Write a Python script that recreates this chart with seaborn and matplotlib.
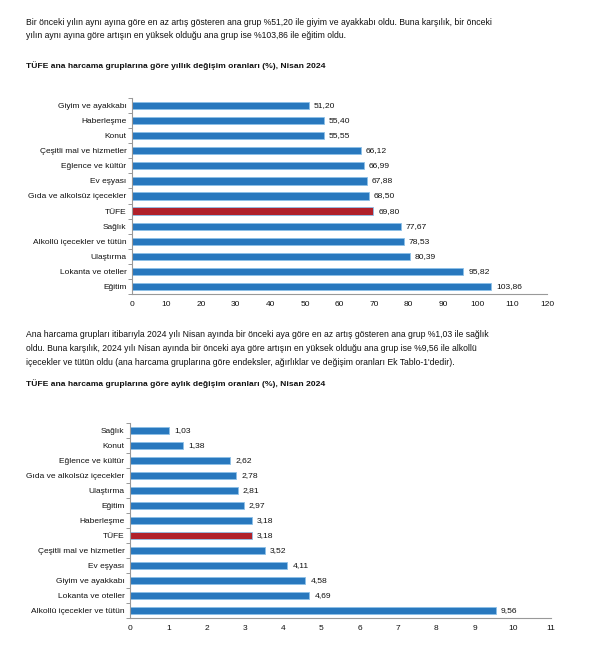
import matplotlib
matplotlib.use("Agg")
import matplotlib.pyplot as plt
import seaborn as sns
import pandas as pd

sns.set_theme(style="white")
plt.rcParams['font.family'] = ['Liberation Sans', 'DejaVu Sans']

# ---- data ----
annual_categories = ["Giyim ve ayakkabı", "Haberleşme", "Konut", "Çeşitli mal ve hizmetler",
                     "Eğlence ve kültür", "Ev eşyası", "Gıda ve alkolsüz içecekler", "TÜFE",
                     "Sağlık", "Alkollü içecekler ve tütün", "Ulaştırma", "Lokanta ve oteller", "Eğitim"]
annual_values = [51.20, 55.40, 55.55, 66.12, 66.99, 67.88, 68.50, 69.80, 77.67, 78.53, 80.39, 95.82, 103.86]
annual_ticks = [0, 10, 20, 30, 40, 50, 60, 70, 80, 90, 100, 110, 120]

monthly_categories = ["Sağlık", "Konut", "Eğlence ve kültür", "Gıda ve alkolsüz içecekler", "Ulaştırma",
                      "Eğitim", "Haberleşme", "TÜFE", "Çeşitli mal ve hizmetler", "Ev eşyası",
                      "Giyim ve ayakkabı", "Lokanta ve oteller", "Alkollü içecekler ve tütün"]
monthly_values = [1.03, 1.38, 2.62, 2.78, 2.81, 2.97, 3.18, 3.18, 3.52, 4.11, 4.58, 4.69, 9.56]
monthly_ticks = [0, 1, 2, 3, 4, 5, 6, 7, 8, 9, 10, 11]

para1 = ["Bir önceki yılın aynı ayına göre en az artış gösteren ana grup %51,20 ile giyim ve ayakkabı oldu. Buna karşılık, bir önceki",
         "yılın aynı ayına göre artışın en yüksek olduğu ana grup ise %103,86 ile eğitim oldu."]
title1 = "TÜFE ana harcama gruplarına göre yıllık değişim oranları (%), Nisan 2024"
para2 = ["Ana harcama grupları itibarıyla 2024 yılı Nisan ayında bir önceki aya göre en az artış gösteren ana grup %1,03 ile sağlık",
         "oldu. Buna karşılık, 2024 yılı Nisan ayında bir önceki aya göre artışın en yüksek olduğu ana grup ise %9,56 ile alkollü",
         "içecekler ve tütün oldu (ana harcama gruplarına göre endeksler, ağırlıklar ve değişim oranları Ek Tablo-1'dedir)."]
title2 = "TÜFE ana harcama gruplarına göre aylık değişim oranları (%), Nisan 2024"

BLUE = "#2878BE"
RED = "#B0202A"
W, H = 610, 646
FS = 6.2

fig = plt.figure(figsize=(W / 100, H / 100), dpi=100)


def ptext(x, y, s, **kw):
    return fig.text(x / W, 1 - y / H, s, va="center", ha="left", color="#111111", **kw)


def draw(ax_box, cats, vals, ticks):
    l, t, r, b = ax_box
    ax = fig.add_axes([l / W, 1 - b / H, (r - l) / W, (b - t) / H])
    df = pd.DataFrame({"cat": cats, "val": vals})
    pal = {c: (RED if c == "TÜFE" else BLUE) for c in cats}
    sns.barplot(data=df, y="cat", x="val", hue="cat", palette=pal, orient="h",
                width=0.48, legend=False, ax=ax, edgecolor="#8DC0E8", linewidth=0.6, saturation=1)
    ax.set_xlim(ticks[0], ticks[-1])
    ax.set_ylim(len(cats) - 0.5, -0.5)
    ax.set_xticks(ticks)
    ax.set_xticklabels([str(t) for t in ticks], fontsize=6)
    ax.set_xlabel("")
    ax.set_ylabel("")
    ax.tick_params(axis="y", which="major", length=0, labelsize=6, pad=4, labelcolor="#111111")
    ax.tick_params(axis="x", which="major", length=3, width=0.7, color="#999999", pad=2, labelcolor="#111111")
    ax.set_yticks([i + 0.5 for i in range(-1, len(cats))], minor=True)
    ax.tick_params(axis="y", which="minor", length=3, width=0.7, color="#999999", left=True)
    for s in ["top", "right"]:
        ax.spines[s].set_visible(False)
    for s in ["left", "bottom"]:
        ax.spines[s].set_color("#999999")
        ax.spines[s].set_linewidth(0.8)
    span = ticks[-1] - ticks[0]
    for i, v in enumerate(vals):
        ax.text(v + span * 0.012, i, f"{v:.2f}".replace(".", ","), va="center", ha="left",
                fontsize=6.1, color="#111111")
    return ax


ptext(26, 22.5, para1[0], fontsize=FS)
ptext(26, 36, para1[1], fontsize=FS)
ptext(26, 66, title1, fontsize=6.1, fontweight="bold")
draw((132, 98, 547, 294), annual_categories, annual_values, annual_ticks)

for i, line in enumerate(para2):
    ptext(26, 334.5 + i * 14, line, fontsize=FS)
ptext(26, 384, title2, fontsize=6.1, fontweight="bold")
draw((130, 423, 551, 618), monthly_categories, monthly_values, monthly_ticks)

fig.savefig("out.png", dpi=100)
